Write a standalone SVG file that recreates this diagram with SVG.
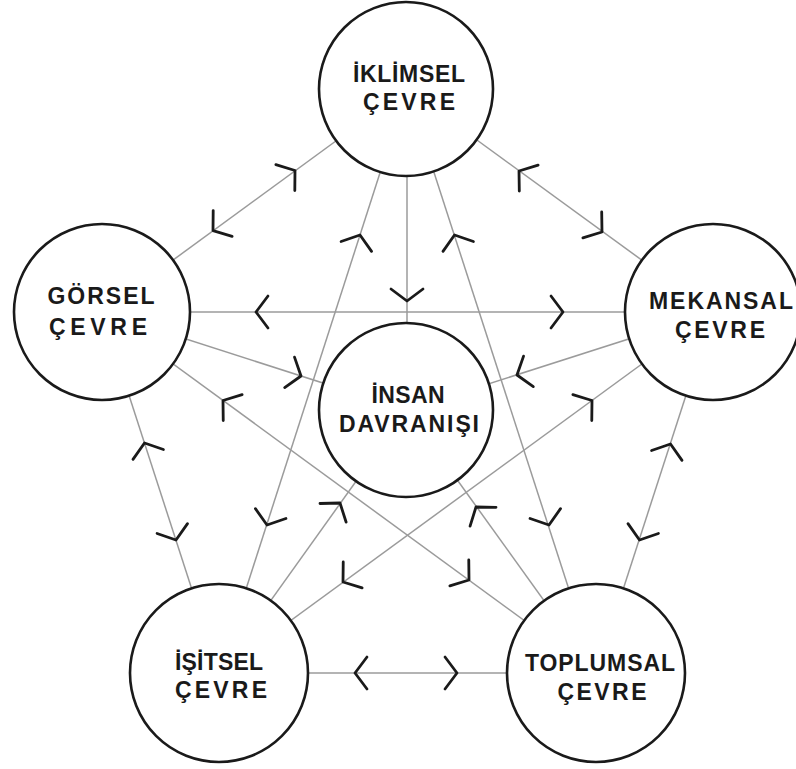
<svg xmlns="http://www.w3.org/2000/svg" xmlns:xlink="http://www.w3.org/1999/xlink" width="796" height="769" viewBox="0 0 796 769">
<defs>
<style>
.ln{stroke:#9b9b9b;stroke-width:1.5;fill:none}
.nd{fill:#fff;stroke:#1a1a1a;stroke-width:2.6}
.tx{font-family:"Liberation Sans",Arial,sans-serif;font-size:23px;font-weight:bold;fill:#1a1a1a;text-anchor:middle}
.ch{fill:none;stroke:#1a1a1a;stroke-width:2.8;stroke-linecap:round;stroke-linejoin:round}
</style>
<path id="chev" class="ch" d="M-12,-16 L0,0 L-12,16"/>
</defs>
<rect width="796" height="769" fill="#fff"/>
<g id="connectors">
<line class="ln" x1="407" y1="89" x2="102" y2="312"/>
<line class="ln" x1="407" y1="89" x2="713" y2="312"/>
<line class="ln" x1="407" y1="89" x2="407" y2="410"/>
<line class="ln" x1="102" y1="312" x2="713" y2="312"/>
<line class="ln" x1="407" y1="89" x2="219" y2="673"/>
<line class="ln" x1="407" y1="89" x2="596" y2="673"/>
<line class="ln" x1="102" y1="312" x2="407" y2="410"/>
<line class="ln" x1="713" y1="312" x2="407" y2="410"/>
<line class="ln" x1="102" y1="312" x2="596" y2="673"/>
<line class="ln" x1="102" y1="312" x2="219" y2="673"/>
<line class="ln" x1="713" y1="312" x2="596" y2="673"/>
<line class="ln" x1="713" y1="312" x2="219" y2="673"/>
<line class="ln" x1="219" y1="673" x2="407" y2="410"/>
<line class="ln" x1="596" y1="673" x2="407" y2="410"/>
<line class="ln" x1="219" y1="673" x2="596" y2="673"/>
<use xlink:href="#chev" transform="translate(295,170.5) rotate(-36.3)"/>
<use xlink:href="#chev" transform="translate(213,230.6) rotate(143.7)"/>
<use xlink:href="#chev" transform="translate(519,171) rotate(216)"/>
<use xlink:href="#chev" transform="translate(602,232) rotate(36)"/>
<use xlink:href="#chev" transform="translate(407,301) rotate(90)"/>
<use xlink:href="#chev" transform="translate(256,312) rotate(180)"/>
<use xlink:href="#chev" transform="translate(563,312) rotate(0)"/>
<use xlink:href="#chev" transform="translate(360,235) rotate(-72.2)"/>
<use xlink:href="#chev" transform="translate(267,525) rotate(107.8)"/>
<use xlink:href="#chev" transform="translate(454.5,235) rotate(-108)"/>
<use xlink:href="#chev" transform="translate(549,525) rotate(72)"/>
<use xlink:href="#chev" transform="translate(301,376) rotate(17.9)"/>
<use xlink:href="#chev" transform="translate(517,375) rotate(162.3)"/>
<use xlink:href="#chev" transform="translate(223,400.5) rotate(216.2)"/>
<use xlink:href="#chev" transform="translate(469,580) rotate(36.2)"/>
<use xlink:href="#chev" transform="translate(144.5,443) rotate(-108)"/>
<use xlink:href="#chev" transform="translate(176,540) rotate(72)"/>
<use xlink:href="#chev" transform="translate(670.5,444) rotate(-72)"/>
<use xlink:href="#chev" transform="translate(639.5,540) rotate(108)"/>
<use xlink:href="#chev" transform="translate(592,400.5) rotate(-36.2)"/>
<use xlink:href="#chev" transform="translate(343,582) rotate(143.8)"/>
<use xlink:href="#chev" transform="translate(340,503) rotate(-54.6)"/>
<use xlink:href="#chev" transform="translate(476,507) rotate(-125.9)"/>
<use xlink:href="#chev" transform="translate(355,673) rotate(180)"/>
<use xlink:href="#chev" transform="translate(457,673) rotate(0)"/>
</g>
<g id="iklimsel">
<circle class="nd" cx="406" cy="89" r="87"/>
<text class="tx" x="409" y="82" textLength="112" lengthAdjust="spacing">İKLİMSEL</text>
<text class="tx" x="409" y="110" textLength="92" lengthAdjust="spacing">ÇEVRE</text>
</g>
<g id="gorsel">
<circle class="nd" cx="102" cy="312" r="88"/>
<text class="tx" x="101" y="304" textLength="107" lengthAdjust="spacing">GÖRSEL</text>
<text class="tx" x="98" y="335" textLength="98" lengthAdjust="spacing">ÇEVRE</text>
</g>
<g id="mekansal">
<circle class="nd" cx="713" cy="312" r="88"/>
<text class="tx" x="721" y="309" textLength="144" lengthAdjust="spacing">MEKANSAL</text>
<text class="tx" x="720" y="338" textLength="90" lengthAdjust="spacing">ÇEVRE</text>
</g>
<g id="insan">
<circle class="nd" cx="406" cy="410" r="87"/>
<text class="tx" x="408" y="403" textLength="73" lengthAdjust="spacing">İNSAN</text>
<text class="tx" x="409" y="432" textLength="140" lengthAdjust="spacing">DAVRANIŞI</text>
</g>
<g id="isitsel">
<circle class="nd" cx="219" cy="673" r="89"/>
<text class="tx" x="219" y="670" textLength="88" lengthAdjust="spacing">İŞİTSEL</text>
<text class="tx" x="221" y="698" textLength="92" lengthAdjust="spacing">ÇEVRE</text>
</g>
<g id="toplumsal">
<circle class="nd" cx="596" cy="673" r="89"/>
<text class="tx" x="600" y="671" textLength="150" lengthAdjust="spacing">TOPLUMSAL</text>
<text class="tx" x="602" y="700" textLength="89" lengthAdjust="spacing">ÇEVRE</text>
</g>
</svg>
